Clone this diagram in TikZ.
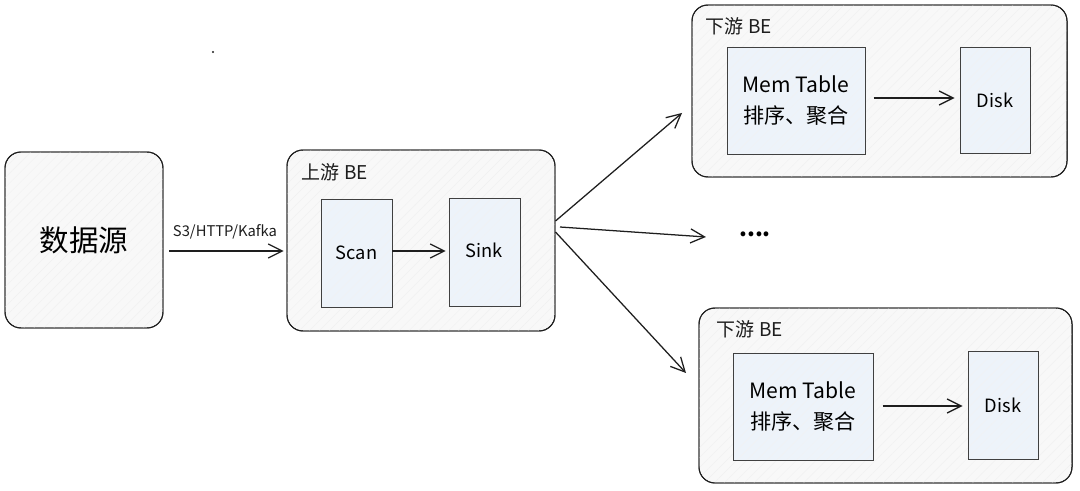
\documentclass[tikz,border=0pt]{standalone}
\usepackage{fontspec}
\setmainfont{Noto Sans CJK SC}
\usetikzlibrary{arrows.meta,patterns.meta,calc}

\definecolor{trait}{HTML}{1E1E1E}
\definecolor{fondgris}{HTML}{F8F8F8}
\definecolor{fondbleu}{HTML}{EDF3FA}

\tikzset{
	grandeboite/.style 2 args={draw=trait, line width=0.7pt, rounded corners=0.4cm,
		fill=fondgris, minimum width=#1*0.025cm, minimum height=#2*0.025cm, inner sep=0pt,
		postaction={pattern={Lines[angle=45,distance=5pt,line width=0.3pt]}, pattern color=black!6},
		postaction={draw=trait, line width=0.7pt}},
	petiteboite/.style 2 args={draw=trait!85, line width=0.7pt,
		fill=fondbleu, minimum width=#1*0.025cm, minimum height=#2*0.025cm, inner sep=0pt,
		postaction={pattern={Lines[angle=45,distance=5pt,line width=0.3pt]}, pattern color=black!5},
		postaction={draw=trait!85, line width=0.7pt}},
	titre/.style={anchor=west, inner sep=0pt, font=\fontsize{13.5}{16}\selectfont, text=trait},
	fleche/.style={draw=trait, line width=0.9pt, -{Straight Barb[length=10pt,width=10pt,line width=0.9pt]}}
}

\begin{document}
\begin{tikzpicture}[x=0.025cm,y=-0.025cm]
		% cadre : 1080 x 491 pixels
		\useasboundingbox (0,0) rectangle (1080,491);
		\fill[white] (0,0) rectangle (1080,491);

		% source des données
		\node[grandeboite={158}{176}, font=\fontsize{21}{25}\selectfont] (source) at (84,240) {数据源};

		% BE amont avec Scan et Sink
		\node[grandeboite={268}{181}] (amont) at (421,240.5) {};
		\node[titre] (amontTitre) at ($(amont.north west)+(15,23)$) {上游 BE};
		\node[petiteboite={71}{108}, font=\fontsize{13}{15}\selectfont] (scan) at (356.5,253) {Scan};
		\node[petiteboite={71}{108}, font=\fontsize{13}{15}\selectfont] (sink) at (484.5,252) {\raisebox{3pt}{Sink}};

		% BE aval (haut)
		\node[grandeboite={375}{172}] (avalHaut) at (879.5,91) {};
		\node[titre] (avalHautTitre) at ($(avalHaut.north west)+(14,22)$) {下游 BE};
		\node[petiteboite={138}{107}, align=center, font=\fontsize{15}{22}\selectfont] (memHaut) at (796,100.5) {Mem Table\\排序、聚合};
		\node[petiteboite={70}{106}, font=\fontsize{13}{15}\selectfont] (diskHaut) at (995,100) {Disk};

		% BE aval (bas)
		\node[grandeboite={373}{175}] (avalBas) at (885.5,395.5) {};
		\node[titre] (avalBasTitre) at ($(avalBas.north west)+(18,22)$) {下游 BE};
		\node[petiteboite={140}{107}, align=center, font=\fontsize{15}{22}\selectfont] (memBas) at (803,406.5) {Mem Table\\排序、聚合};
		\node[petiteboite={70}{108}, font=\fontsize{13}{15}\selectfont] (diskBas) at (1003,405) {Disk};

		% autres BE
		\node[font=\bfseries\fontsize{16}{18}\selectfont, inner sep=0pt] (points) at (755,234) {....};

		% connexions
		\draw[fleche, shorten <=4pt, shorten >=2pt] (source.east |- 0,251) -- node[above=5pt, font=\fontsize{10.5}{12}\selectfont, text=trait] (protocoles) {S3/HTTP/Kafka} (amont.west |- 0,251);
		\draw[fleche, shorten >=2pt] (scan.east |- 0,251) -- (sink.west |- 0,251);
		\draw[fleche] (memHaut.east |- 0,98) ++(8,0) -- ($(diskHaut.west |- 0,98)+(-5,0)$);
		\draw[fleche] (memBas.east |- 0,406) ++(9,0) -- ($(diskBas.west |- 0,406)+(-5,0)$);

		% éventail vers les BE aval
		\coordinate (depart) at (556,226);
		\coordinate (finHaut) at (682,113);
		\coordinate (finBas) at (686,373);
		\draw[fleche] (amont.east |- 0,221) -- (finHaut);
		\draw[fleche] (depart) ++(4,1) -- ($(points.west)+(-33,3)$);
		\draw[fleche] (amont.east |- 0,232) -- (finBas);

		% petit point isolé
		\fill[trait] (213,52) circle (0.8pt);
	\end{tikzpicture}
\end{document}
